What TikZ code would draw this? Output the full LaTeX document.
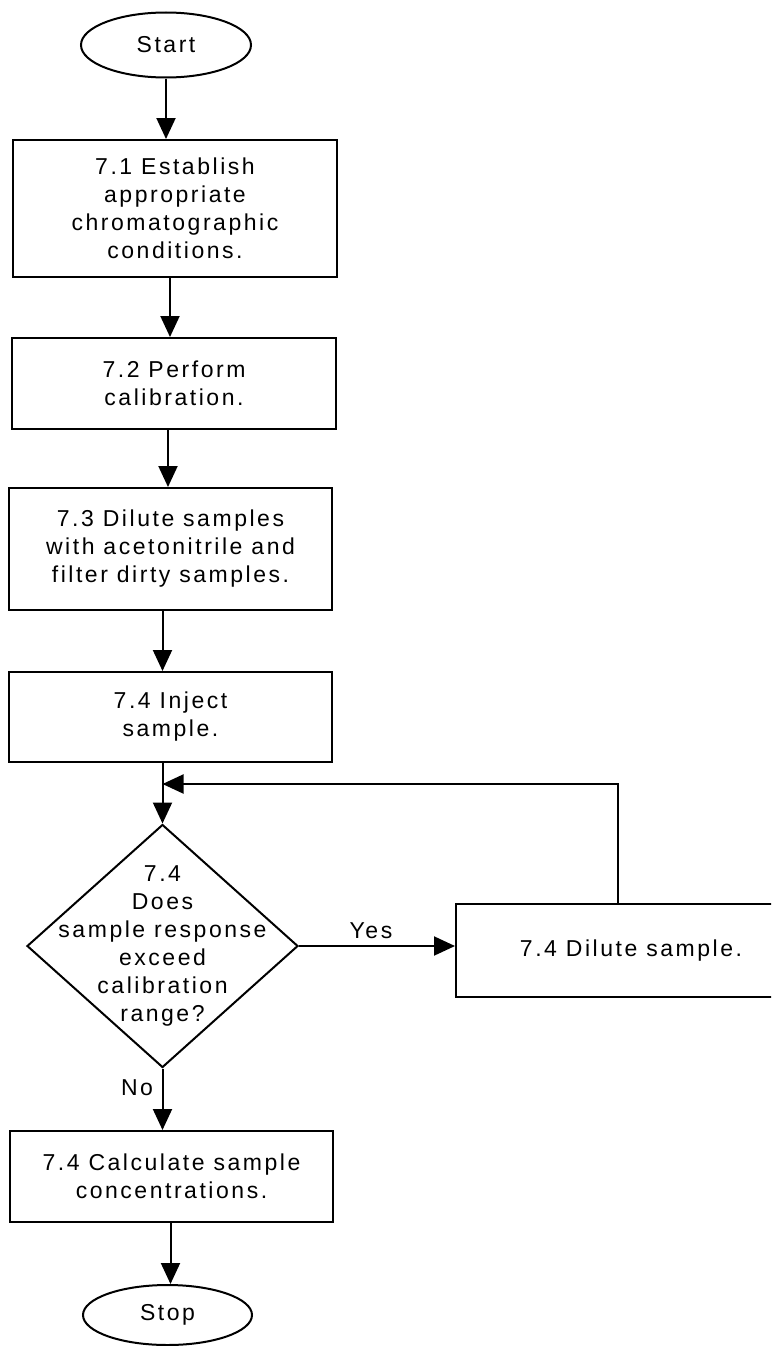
\documentclass[tikz,border=0pt]{standalone}
\usepackage{fontspec}
\setmainfont{Liberation Sans}[LetterSpace=11]
\usetikzlibrary{shapes.geometric,arrows.meta}
\begin{document}
\begin{tikzpicture}[x=1pt,y=-1pt,
  every node/.style={font=\fontsize{23}{28}\selectfont},
  term/.style={ellipse,draw,line width=2pt,inner sep=0pt},
  stepbox/.style={rectangle,draw,line width=2pt,inner sep=0pt,align=center},
  decision/.style={diamond,draw,line width=2pt,inner sep=0pt},
  arr/.style={line width=2pt,-{Triangle[length=21pt,width=19pt]}},
  lbl/.style={inner sep=0pt}]
\useasboundingbox (0,0) rectangle (771,1346);
\clip (0,0) rectangle (771,1346);
\node[term,minimum width=170pt,minimum height=65pt] (start) at (166,45) {Start};
\node[stepbox,minimum width=324pt,minimum height=137pt] (b71) at (175,208.5)
  {7.1 Establish\\appropriate\\chromatographic\\conditions.};
\node[stepbox,minimum width=324pt,minimum height=91pt] (b72) at (174,383.5)
  {7.2 Perform\\calibration.};
\node[stepbox,minimum width=323pt,minimum height=122pt] (b73) at (170.5,549)
  {7.3 Dilute samples\\with acetonitrile and\\filter dirty samples.};
\node[stepbox,minimum width=323pt,minimum height=90pt] (b74) at (170.5,717)
  {7.4 Inject\\sample.};
\node[decision,minimum width=271pt,minimum height=243pt] (dec) at (162.5,946) {};
\node[lbl,align=center] (dectext) at (162.5,946)
  {7.4\\Does\\sample response\\exceed\\calibration\\range?};
\node[stepbox,minimum width=350pt,minimum height=93pt] (dil) at (631,950.5)
  {7.4 Dilute sample.};
\node[stepbox,minimum width=323pt,minimum height=91pt] (calc) at (171.5,1176.5)
  {7.4 Calculate sample\\concentrations.};
\node[term,minimum width=169pt,minimum height=60pt] (stop) at (167.5,1315) {Stop};
\node[lbl] (yes) at (371,931) {Yes};
\node[lbl] (no) at (137,1088) {No};
\coordinate (lp) at (618,784);
\coordinate (join) at (162.5,784);
\draw[arr] (start.south) -- (start.south |- b71.north);
\draw[arr] ([xshift=-5pt]b71.south) -- ([xshift=-5pt]b71.south |- b72.north);
\draw[arr] ([xshift=-6pt]b72.south) -- ([xshift=-6pt]b72.south |- b73.north);
\draw[arr] ([xshift=-8pt]b73.south) -- ([xshift=-8pt]b73.south |- b74.north);
\draw[arr] (b74.south -| dec.north) -- (dec.north);
\draw[arr] (dil.north -| lp) -- (lp) -- (join);
\draw[arr] (dec.east) -- (dec.east -| dil.west);
\draw[arr] (dec.south) -- (dec.south |- calc.north);
\draw[arr] ([xshift=-1pt]calc.south) -- ([xshift=-1pt]calc.south |- stop.north);
\end{tikzpicture}
\end{document}
